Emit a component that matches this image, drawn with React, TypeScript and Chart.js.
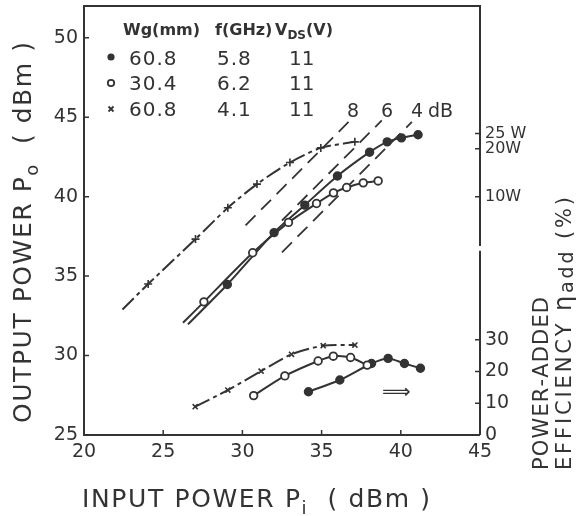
import React, { useEffect, useRef } from "react";
import { Chart, registerables } from "chart.js";

Chart.register(...registerables);

const INK = "#333333";
const FAMILY = "'DejaVu Sans', 'Liberation Sans', sans-serif";

// axis ranges
const X_MIN = 20, X_MAX = 45, Y_MIN = 25, Y_MAX = 52;
const EFF_PER_DB = 5; // 10 % per 2 dB on the right scale

// tick labels
const xTicks = [20, 25, 30, 35, 40, 45];
const yTicks = [25, 30, 35, 40, 45, 50];
const effTicks = [0, 10, 20, 30];
const wattTicks = [10, 20, 25];
const wattTickLabels = ["10W", "20W", "25 W"];

// legend table
const legendWg = ["60.8", "30.4", "60.8"];
const legendFreq = ["5.8", "6.2", "4.1"];
const legendVds = ["11", "11", "11"];

// output power (dBm) vs input power (dBm); first point of each is line start only
const piFilled = [26.56, 29.05, 32.0, 33.94, 36.0, 38.03, 39.14, 40.04, 41.09];
const poFilled = [31.96, 34.47, 37.74, 39.47, 41.3, 42.8, 43.45, 43.7, 43.9];
const markFilled = [0, 1, 1, 1, 1, 1, 1, 1, 1];

const piOpen = [26.25, 27.57, 30.65, 32.91, 34.68, 35.75, 36.58, 37.63, 38.57];
const poOpen = [32.06, 33.38, 36.47, 38.38, 39.57, 40.24, 40.58, 40.87, 40.99];
const markOpen = [0, 1, 1, 1, 1, 1, 1, 1, 1];

const piCross = [22.43, 24.05, 27.04, 29.08, 30.92, 33.0, 34.95, 37.1];
const poCross = [32.9, 34.5, 37.33, 39.3, 40.79, 42.15, 43.07, 43.45];
const markCross = [0, 1, 1, 1, 1, 1, 1, 1];

// power-added efficiency (%)
const piEffFilled = [34.17, 36.15, 38.15, 39.2, 40.23, 41.24];
const effFilled = [13.6, 17.3, 22.5, 24.1, 22.5, 21.0];
const piEffOpen = [30.71, 32.68, 34.78, 35.74, 36.83, 37.88];
const effOpen = [12.4, 18.6, 23.3, 24.8, 24.4, 22.0];
const piEffCross = [27.02, 29.08, 31.18, 33.1, 35.1, 37.1];
const effCross = [8.9, 14.15, 20.1, 25.4, 28.1, 28.3];

// constant-gain lines (Po = Pi + G)
const gainDb = [8, 6, 4];
const gainPiFrom = [30.2, 32.5, 32.5];
const gainPiTo = [36.7, 38.8, 40.7];

const rightAxisBreak = [36.6, 36.9];

const zip = (xs: number[], ys: number[]) => xs.map((x, i) => ({ x, y: ys[i] }));
const dbmOfWatts = (w: number) => 30 + 10 * Math.log10(w);
const effOfDbm = (d: number) => (d - Y_MIN) * EFF_PER_DB;

type Run = { t: string; sub?: boolean; scale?: number; dy?: number };

function drawRich(
  ctx: CanvasRenderingContext2D,
  runs: Run[],
  x: number,
  y: number,
  size: number,
  opts: { rot?: number; target?: number; spacing?: number; weight?: string } = {}
) {
  const weight = opts.weight || "normal";
  const fontOf = (r: Run) => {
    const s = r.scale ? size * r.scale : r.sub ? size * 0.72 : size;
    return `${weight} ${Math.round(s)}px ${FAMILY}`;
  };
  const chars: { c: string; font: string; dy: number; w: number }[] = [];
  for (const r of runs) {
    const font = fontOf(r);
    ctx.font = font;
    const dy = r.dy !== undefined ? r.dy : r.sub ? size * 0.28 : 0;
    for (const c of Array.from(r.t)) chars.push({ c, font, dy, w: ctx.measureText(c).width });
  }
  const natural = chars.reduce((s, c) => s + c.w, 0);
  let spacing = opts.spacing || 0;
  if (opts.target !== undefined && chars.length > 1) spacing = (opts.target - natural) / (chars.length - 1);
  ctx.save();
  ctx.translate(x, y);
  if (opts.rot) ctx.rotate(opts.rot);
  ctx.textAlign = "left";
  ctx.textBaseline = "alphabetic";
  ctx.fillStyle = INK;
  let cx = 0;
  for (const ch of chars) {
    ctx.font = ch.font;
    ctx.fillText(ch.c, cx, ch.dy);
    cx += ch.w + spacing;
  }
  ctx.restore();
}

const decorPlugin = {
  id: "decor",
  afterDraw(chart: any) {
    const ctx: CanvasRenderingContext2D = chart.ctx;
    const { left, right, top, bottom } = chart.chartArea;
    const xs = chart.scales.x;
    const ys = chart.scales.y;
    const es = chart.scales.yEff;
    ctx.save();
    ctx.strokeStyle = INK;
    ctx.lineWidth = 2;
    ctx.lineCap = "butt";
    // frame
    ctx.beginPath();
    ctx.moveTo(left, top);
    ctx.lineTo(left, bottom);
    ctx.lineTo(right, bottom);
    ctx.moveTo(left - 1, top);
    ctx.lineTo(right + 1, top);
    ctx.moveTo(right, top);
    ctx.lineTo(right, ys.getPixelForValue(rightAxisBreak[1]));
    ctx.moveTo(right, ys.getPixelForValue(rightAxisBreak[0]));
    ctx.lineTo(right, bottom);
    ctx.stroke();
    // inward tick marks
    ctx.lineWidth = 1.5;
    ctx.beginPath();
    const T = 5;
    for (const v of xTicks) {
      if (v === X_MIN || v === X_MAX) continue;
      const px = xs.getPixelForValue(v);
      ctx.moveTo(px, bottom);
      ctx.lineTo(px, bottom - T);
    }
    for (const v of yTicks) {
      if (v === Y_MIN) continue;
      const py = ys.getPixelForValue(v);
      ctx.moveTo(left, py);
      ctx.lineTo(left + T, py);
    }
    for (const t of es.ticks) {
      if (t.value === 0) continue;
      const py = es.getPixelForValue(t.value);
      ctx.moveTo(right, py);
      ctx.lineTo(right - T, py);
    }
    ctx.stroke();

    // legend table
    drawRich(ctx, [{ t: "Wg(mm)" }], 123, 35, 16, { weight: "bold" });
    drawRich(ctx, [{ t: "f(GHz)" }], 215, 35, 16, { weight: "bold" });
    drawRich(ctx, [{ t: "V" }, { t: "DS", sub: true }, { t: "(V)" }], 275, 35, 16, { weight: "bold" });
    const rowY = [65, 90, 116];
    for (let i = 0; i < 3; i++) {
      drawRich(ctx, [{ t: legendWg[i] }], 129, rowY[i], 20, { spacing: 1 });
      drawRich(ctx, [{ t: legendFreq[i] }], 217, rowY[i], 20, { spacing: 1 });
      drawRich(ctx, [{ t: legendVds[i] }], 289, rowY[i], 20, { spacing: 0 });
    }
    ctx.fillStyle = INK;
    ctx.strokeStyle = INK;
    ctx.lineWidth = 1.8;
    ctx.beginPath();
    ctx.arc(111, 57, 3.6, 0, Math.PI * 2);
    ctx.fill();
    ctx.beginPath();
    ctx.arc(111, 83, 3.2, 0, Math.PI * 2);
    ctx.stroke();
    ctx.beginPath();
    ctx.moveTo(108.5, 106.5);
    ctx.lineTo(113.5, 111.5);
    ctx.moveTo(113.5, 106.5);
    ctx.lineTo(108.5, 111.5);
    ctx.stroke();

    // gain labels
    drawRich(ctx, [{ t: String(gainDb[0]) }], 347, 117, 19);
    drawRich(ctx, [{ t: String(gainDb[1]) }], 381, 117, 19);
    drawRich(ctx, [{ t: String(gainDb[2]) }], 411, 117, 19);
    drawRich(ctx, [{ t: "dB" }], 428, 117, 19);

    // arrow pointing to the efficiency scale
    ctx.font = `20px ${FAMILY}`;
    ctx.textAlign = "left";
    ctx.textBaseline = "middle";
    ctx.fillStyle = INK;
    ctx.fillText("\u27F9", 382, 393);

    // axis titles
    drawRich(ctx, [{ t: "INPUT POWER P" }, { t: "i", sub: true }, { t: "  ( dBm )" }], 82, 507, 25, { target: 348 });
    drawRich(ctx, [{ t: "OUTPUT POWER P" }, { t: "o", sub: true }, { t: "  ( dBm )" }], 31, 423, 25, {
      rot: -Math.PI / 2,
      target: 381,
    });
    drawRich(ctx, [{ t: "POWER-ADDED" }], 548, 470, 21, { rot: -Math.PI / 2, target: 173 });
    drawRich(
      ctx,
      [{ t: "EFFICIENCY " }, { t: "\u03B7", scale: 1.15 }, { t: "add", scale: 0.9, dy: 2 }, { t: " (%)" }],
      571,
      470,
      21,
      { rot: -Math.PI / 2, target: 273 }
    );
    ctx.restore();
  },
};

export default function App() {
  const ref = useRef<HTMLCanvasElement>(null);
  useEffect(() => {
    if (!ref.current) return;
    const base = {
      showLine: true,
      borderColor: INK,
      borderWidth: 2,
      pointBorderColor: INK,
      pointBorderWidth: 1.8,
      pointHoverRadius: 0,
      tension: 0.25,
    };
    const crossDash = [16, 4, 4, 4];
    const R = 3.8;
    const datasets: any[] = [
      { ...base, data: zip(piOpen, poOpen), yAxisID: "y", pointStyle: "circle", pointBackgroundColor: "#fff", pointRadius: markOpen.map((m) => (m ? R : 0)) },
      { ...base, data: zip(piFilled, poFilled), yAxisID: "y", pointStyle: "circle", pointBackgroundColor: INK, pointRadius: markFilled.map((m) => (m ? R : 0)) },
      { ...base, data: zip(piCross, poCross), yAxisID: "y", pointStyle: "cross", pointBorderWidth: 1.6, pointRadius: markCross.map((m) => (m ? 4 : 0)), borderDash: crossDash },
      { ...base, data: zip(piEffOpen, effOpen), yAxisID: "yEff", pointStyle: "circle", pointBackgroundColor: "#fff", pointRadius: R },
      { ...base, data: zip(piEffFilled, effFilled), yAxisID: "yEff", pointStyle: "circle", pointBackgroundColor: INK, pointRadius: R },
      { ...base, data: zip(piEffCross, effCross), yAxisID: "yEff", pointStyle: "crossRot", pointBorderWidth: 1.6, pointRadius: 3.6, borderDash: crossDash },
    ];
    gainDb.forEach((g, i) => {
      datasets.push({
        ...base,
        tension: 0,
        borderWidth: 1.8,
        data: [
          { x: gainPiFrom[i], y: gainPiFrom[i] + g },
          { x: gainPiTo[i], y: gainPiTo[i] + g },
        ],
        yAxisID: "y",
        pointRadius: 0,
        borderDash: [14, 8],
      });
    });

    const tickFont = { family: FAMILY, size: 19 };
    const chart = new Chart(ref.current, {
      type: "scatter",
      data: { datasets },
      plugins: [decorPlugin],
      options: {
        animation: false,
        responsive: false,
        events: [],
        layout: { padding: { top: 6, left: 0, right: 0, bottom: 0 } },
        plugins: { legend: { display: false }, tooltip: { enabled: false } },
        scales: {
          x: {
            type: "linear",
            position: "bottom",
            min: X_MIN,
            max: X_MAX,
            grid: { display: false, drawTicks: false },
            border: { display: false },
            afterBuildTicks: (s: any) => {
              s.ticks = xTicks.map((v) => ({ value: v }));
            },
            ticks: { color: INK, font: tickFont, padding: 6, maxRotation: 0, autoSkip: false },
            afterFit: (s: any) => {
              s.height = 81;
              s.paddingLeft = 0;
              s.paddingRight = 0;
            },
          },
          y: {
            type: "linear",
            position: "left",
            min: Y_MIN,
            max: Y_MAX,
            grid: { display: false, drawTicks: false },
            border: { display: false },
            afterBuildTicks: (s: any) => {
              s.ticks = yTicks.map((v) => ({ value: v }));
            },
            ticks: { color: INK, font: tickFont, padding: 6, autoSkip: false },
            afterFit: (s: any) => {
              s.width = 84;
              s.paddingTop = 0;
              s.paddingBottom = 0;
            },
          },
          yEff: {
            type: "linear",
            position: "right",
            min: 0,
            max: (Y_MAX - Y_MIN) * EFF_PER_DB,
            grid: { display: false, drawTicks: false },
            border: { display: false },
            afterBuildTicks: (s: any) => {
              s.ticks = [
                ...effTicks.map((v) => ({ value: v })),
                ...wattTicks.map((w) => ({ value: effOfDbm(dbmOfWatts(w)) })),
              ];
            },
            ticks: {
              color: INK,
              padding: 5,
              autoSkip: false,
              font: (c: any) => (c.index >= effTicks.length ? { family: FAMILY, size: 16 } : tickFont),
              callback: (v: any, i: number) => (i < effTicks.length ? String(v) : wattTickLabels[i - effTicks.length]),
            },
            afterFit: (s: any) => {
              s.width = 98;
              s.paddingTop = 0;
              s.paddingBottom = 0;
            },
          },
        },
      } as any,
    });
    return () => chart.destroy();
  }, []);
  return (
    <div style={{ position: "absolute", left: 0, top: 0, width: 578, height: 516, background: "#fff" }}>
      <canvas ref={ref} width={578} height={516} style={{ display: "block" }} />
    </div>
  );
}
